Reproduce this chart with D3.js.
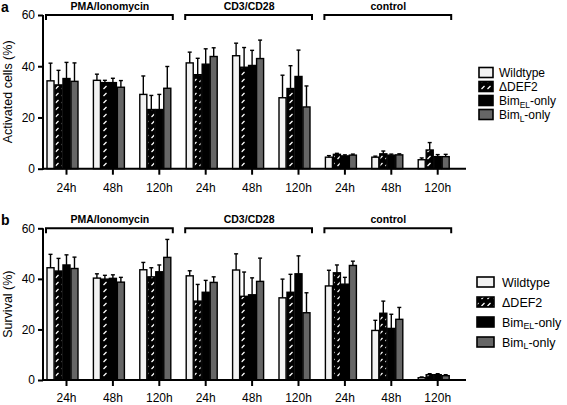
<!DOCTYPE html>
<html><head><meta charset="utf-8">
<script src="https://cdn.jsdelivr.net/npm/d3@7/dist/d3.min.js"></script>
<style>
html,body{margin:0;padding:0;background:#fff;}
svg{display:block;font-family:"Liberation Sans",Arial,sans-serif;}
</style></head>
<body>
<svg id="chart" width="567" height="405"></svg>
<script>
const timepoints = ["24h","48h","120h","24h","48h","120h","24h","48h","120h"];
const conditions = ["PMA/Ionomycin","CD3/CD28","control"];
const seriesNames = ["Wildtype","ΔDEF2","BimEL-only","BimL-only"];
const yTicks = [0,20,40,60];

const activatedMean = {
  "Wildtype":   [34.3, 34.5, 29.0, 41.3, 44.1, 27.7, 4.5, 4.5, 3.5],
  "ΔDEF2":      [32.7, 33.6, 23.1, 36.7, 39.6, 31.3, 5.6, 5.8, 7.3],
  "BimEL-only": [35.2, 33.6, 23.1, 40.8, 40.3, 36.0, 5.0, 5.3, 4.7],
  "BimL-only":  [34.1, 31.8, 31.4, 43.8, 43.0, 24.1, 5.3, 5.4, 4.7]
};
const activatedErr = {
  "Wildtype":   [6.9, 2.4, 7.2, 4.2, 4.9, 8.8, 0.6, 0.4, 0.7],
  "ΔDEF2":      [5.7, 0.9, 5.5, 6.4, 7.7, 8.9, 0.4, 1.1, 2.9],
  "BimEL-only": [6.3, 1.7, 5.9, 6.0, 5.9, 10.3, 0.4, 0.4, 0.8],
  "BimL-only":  [7.2, 2.6, 8.5, 3.4, 7.2, 8.2, 0.4, 0.4, 0.9]
};
const survivalMean = {
  "Wildtype":   [44.4, 40.3, 43.6, 41.2, 43.5, 32.5, 37.2, 19.6, 0.9],
  "ΔDEF2":      [43.1, 39.9, 40.8, 31.2, 33.1, 34.7, 42.4, 26.4, 2.1],
  "BimEL-only": [45.5, 40.2, 42.8, 34.7, 33.7, 42.0, 37.9, 20.4, 2.1],
  "BimL-only":  [44.1, 38.7, 48.5, 38.6, 39.0, 26.6, 45.3, 24.0, 1.7]
};
const survivalErr = {
  "Wildtype":   [5.3, 1.7, 2.9, 2.0, 6.4, 7.4, 6.2, 4.0, 0.3],
  "ΔDEF2":      [5.0, 1.5, 3.6, 6.6, 9.6, 7.1, 3.1, 4.8, 0.4],
  "BimEL-only": [4.0, 1.4, 2.7, 4.7, 6.7, 7.1, 2.7, 5.6, 0.4],
  "BimL-only":  [4.5, 1.9, 7.1, 2.2, 9.2, 7.9, 1.7, 4.7, 0.4]
};

const svg = d3.select("#chart");
const FONT = '"Liberation Sans",Arial,sans-serif';

// hatch pattern
const defs = svg.append("defs");
const pat = defs.append("pattern").attr("id","hatch").attr("patternUnits","userSpaceOnUse")
  .attr("width",6).attr("height",7);
pat.append("rect").attr("width",6).attr("height",7).attr("fill","#000");
pat.append("line").attr("x1",1.5).attr("y1",5).attr("x2",4.5).attr("y2",2)
  .attr("stroke","#fff").attr("stroke-width",1.3);

const fills = {"Wildtype":"#f2f2f2","ΔDEF2":"url(#hatch)","BimEL-only":"#000","BimL-only":"#666"};

const gIdx = d3.range(timepoints.length);
const x0 = d3.scaleBand().domain(gIdx).range([39.3, 456.9]).padding(0);
const x1 = d3.scaleBand().domain(seriesNames).range([-15.5, 15.5]).paddingInner(0.12);

function subLabel(sel, name){
  if(name === "BimEL-only"){
    sel.append("tspan").text("Bim");
    sel.append("tspan").text("EL").attr("font-size","0.7em").attr("dy","2.5");
    sel.append("tspan").text("-only").attr("dy","-2.5");
  } else if(name === "BimL-only"){
    sel.append("tspan").text("Bim");
    sel.append("tspan").text("L").attr("font-size","0.7em").attr("dy","2.5");
    sel.append("tspan").text("-only").attr("dy","-2.5");
  } else sel.text(name);
}

function panel(opts){
  const {top, bottom, mean, err, letter, title, legend, pad} = opts;
  const g = svg.append("g");
  const y = d3.scaleLinear().domain([0,60]).range([bottom, top]);

  // bars
  seriesNames.forEach(s=>{
    const gs = g.append("g");
    const cx = i=> x0(i)+x0.bandwidth()/2 + x1(s)+x1.bandwidth()/2;
    gs.selectAll("rect").data(gIdx).join("rect")
      .attr("x", i=> x0(i)+x0.bandwidth()/2 + x1(s))
      .attr("width", x1.bandwidth())
      .attr("y", i=> y(mean[s][i]))
      .attr("height", i=> y(0)-y(mean[s][i]))
      .attr("fill", fills[s]).attr("stroke","#000").attr("stroke-width",1.4);
    gs.selectAll("line.eb").data(gIdx).join("line").attr("class","eb")
      .attr("x1", cx).attr("x2", cx)
      .attr("y1", i=> y(mean[s][i]))
      .attr("y2", i=> y(mean[s][i]+err[s][i]))
      .attr("stroke","#000").attr("stroke-width",1.4);
    gs.selectAll("line.cap").data(gIdx).join("line").attr("class","cap")
      .attr("x1", i=> cx(i)-2).attr("x2", i=> cx(i)+2)
      .attr("y1", i=> y(mean[s][i]+err[s][i]))
      .attr("y2", i=> y(mean[s][i]+err[s][i]))
      .attr("stroke","#000").attr("stroke-width",1.4);
  });

  // y axis
  const ya = g.append("g").attr("transform","translate(43,0)")
    .call(d3.axisLeft(y).tickValues(yTicks).tickSize(5).tickPadding(3));
  ya.select(".domain").attr("stroke-width",2).attr("d",`M0,${y(0)+1}V${y(60)}`);
  ya.selectAll(".tick line").attr("stroke-width",2);
  ya.selectAll("text").attr("font-size",12).attr("font-family",FONT).attr("fill","#000");

  // x axis
  g.append("line").attr("x1",42).attr("x2",466).attr("y1",y(0)).attr("y2",y(0))
    .attr("stroke","#000").attr("stroke-width",2);
  const xa = g.append("g").attr("transform",`translate(4,${y(0)})`)
    .call(d3.axisBottom(x0).tickFormat(i=>timepoints[i]).tickSize(6).tickPadding(pad));
  xa.select(".domain").remove();
  xa.selectAll(".tick line").attr("stroke-width",2);
  xa.selectAll("text").attr("font-size",12).attr("font-family",FONT).attr("fill","#000");

  // condition brackets
  conditions.forEach((c,k)=>{
    const l = x0(k*3)+x0.bandwidth()/2 - 16.5;
    const r = x0(k*3+2)+x0.bandwidth()/2 + 17.5;
    g.append("path").attr("d",`M${l},${y(60)+5}V${y(60)}H${r}V${y(60)+5}`)
      .attr("fill","none").attr("stroke","#000").attr("stroke-width",2);
    g.append("text").attr("x", x0(k*3+1)+x0.bandwidth()/2+1).attr("y", y(60)-5.5)
      .attr("text-anchor","middle").attr("font-weight","bold").attr("font-size",10.5)
      .text(c);
  });

  // panel letter & title
  g.append("text").attr("x",1).attr("y",top-3.5).attr("font-weight","bold").attr("font-size",14).text(letter);
  g.append("text").attr("transform",`translate(12,${(top+bottom)/2}) rotate(-90)`)
    .attr("text-anchor","middle").attr("font-size",12.5).text(title);

  // legend
  const lg = g.append("g");
  seriesNames.forEach((s,i)=>{
    const cy = legend.y0 + i*legend.dy;
    lg.append("rect").attr("x",legend.x).attr("y",cy-5).attr("width",legend.w).attr("height",10)
      .attr("fill",fills[s]).attr("stroke","#000").attr("stroke-width",1.6);
    const t = lg.append("text").attr("x",legend.tx).attr("y",cy+4.5).attr("font-size",legend.fs);
    subLabel(t,s);
  });
}

panel({top:15, bottom:168.7, mean:activatedMean, err:activatedErr, letter:"a",
  title:"Activated cells (%)", pad:9, legend:{x:479, w:14, tx:499, y0:72.5, dy:14, fs:12}});
panel({top:228.3, bottom:380, mean:survivalMean, err:survivalErr, letter:"b",
  title:"Survival (%)", pad:7, legend:{x:477, w:17, tx:502, y0:282, dy:20, fs:12.5}});
</script>
</body></html>
